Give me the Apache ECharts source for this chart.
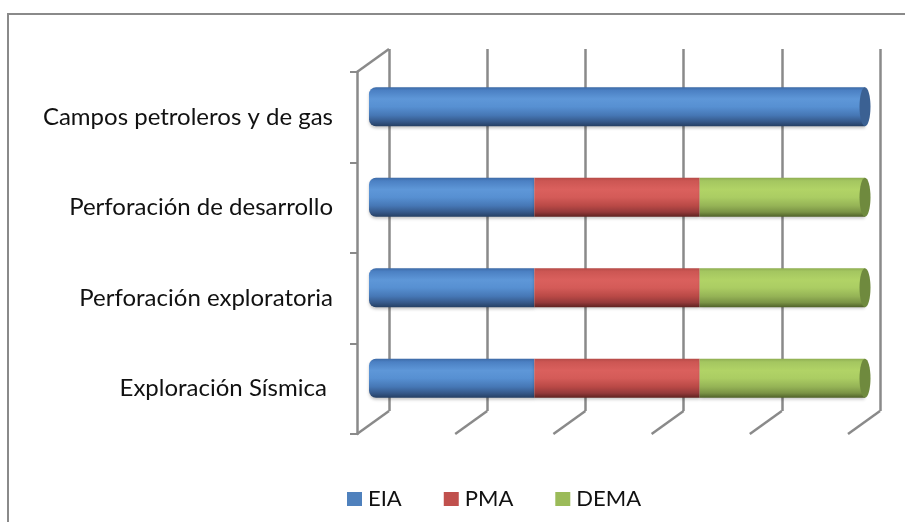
<!DOCTYPE html>
<html><head><meta charset="utf-8">
<script src="https://cdn.jsdelivr.net/npm/echarts@6/dist/echarts.min.js"></script>
<style>html,body{margin:0;padding:0;background:#fff}#c{width:905px;height:522px}</style>
</head><body><div id="c"></div>
<script>
// ---- data ----
const categories = ['Exploración Sísmica ', 'Perforación exploratoria', 'Perforación de desarrollo', 'Campos petroleros y de gas'];
const EIA  = [1, 1, 1, 1];
const PMA  = [1, 1, 1, 0];
const DEMA = [1, 1, 1, 0];
const seriesNames = ['EIA', 'PMA', 'DEMA'];
const xTicks = [0, 20, 40, 60, 80, 100];

// ---- styles ----
const GRID_COLOR = '#8a8a8a';
const DEPTH = { dx: -32, dy: 23 };
const BAR_W = 39;
const FONT = 'Lato';
const palettes = {
  EIA:  { flat: '#4f81bd', cap: '#3b6193', stops: ['#3d6aa6', '#4b80c3', '#5e97d8', '#5790d2', '#4677b5', '#36598a', '#253f63'] },
  PMA:  { flat: '#c0504d', cap: '#9c3d3b', stops: ['#b54a47', '#cc5653', '#da605d', '#d45b58', '#b94946', '#94393a', '#5e2220'] },
  DEMA: { flat: '#9bbb59', cap: '#6f8a3e', stops: ['#8fae52', '#a4c660', '#b1d366', '#abcd63', '#95b356', '#7a9345', '#4f6129'] }
};
function grad(p) {
  const pos = [0, 0.08, 0.3, 0.5, 0.72, 0.88, 1];
  return { type: 'linear', x: 0, y: 0, x2: 0, y2: 1,
    colorStops: p.stops.map((c, i) => ({ offset: pos[i], color: c })) };
}

const raw = { EIA, PMA, DEMA };
const totals = categories.map((_, i) => EIA[i] + PMA[i] + DEMA[i]);
const pct = name => raw[name].map((v, i) => v / totals[i] * 100);
const ends = categories.map((_, i) => {
  let last = 'EIA';
  seriesNames.forEach(n => { if (raw[n][i] > 0) last = n; });
  return [100, i, last];
});

const chart = echarts.init(document.getElementById('c'), null, { renderer: 'canvas' });

const barSeries = seriesNames.map((n, k) => ({
  name: n, type: 'bar', stack: 'all', xAxisIndex: 2, yAxisIndex: 2,
  barWidth: BAR_W, z: 5,
  data: pct(n),
  itemStyle: {
    color: grad(palettes[n]),
    borderRadius: k === 0 ? [7, 0, 0, 7] : 0,
    shadowColor: 'rgba(0,0,0,0.22)', shadowBlur: 3, shadowOffsetY: 2
  },
  emphasis: { disabled: true }, silent: true
}));

chart.setOption({
  animation: false,
  backgroundColor: '#fff',
  graphic: [{
    type: 'rect', z: -10, silent: true,
    shape: { x: 8, y: 14, width: 1200, height: 1200 },
    style: { fill: 'none', stroke: GRID_COLOR, lineWidth: 2 }
  }],
  legend: {
    data: seriesNames.map(n => ({ name: n, itemStyle: { color: palettes[n].flat } })),
    top: 483, left: 342, itemWidth: 15, itemHeight: 14, itemGap: 42,
    icon: 'rect',
    textStyle: { fontFamily: FONT, fontSize: 22, lineHeight: 22, color: '#111', padding: [0, 0, 0, 1] }
  },
  grid: [
    { left: 389, right: 25, top: 49, bottom: 111 },   // back wall
    { left: 357, right: 57, top: 72, bottom: 88 },    // front plane
    { left: 369, right: 40, top: 61.5, bottom: 98.5 } // bars mid plane
  ],
  xAxis: [
    { gridIndex: 0, type: 'value', min: 0, max: 100, interval: 20,
      axisLine: { show: false }, axisTick: { show: false }, axisLabel: { show: false },
      splitLine: { show: true, lineStyle: { color: GRID_COLOR, width: 2.5 } } },
    { gridIndex: 1, type: 'value', min: 0, max: 100, show: false },
    { gridIndex: 2, type: 'value', min: 0, max: 100, show: false }
  ],
  yAxis: [
    { gridIndex: 0, type: 'value', min: 0, max: 4, show: false },
    { gridIndex: 1, type: 'category', data: categories,
      axisLine: { show: true, lineStyle: { color: GRID_COLOR, width: 2.5 } },
      axisTick: { show: true, length: 7, lineStyle: { color: GRID_COLOR, width: 2 } },
      axisLabel: { margin: 24, fontFamily: FONT, fontSize: 24, color: '#111' },
      splitLine: { show: false } },
    { gridIndex: 2, type: 'category', data: categories, show: false }
  ],
  series: [
    {
      type: 'custom', xAxisIndex: 0, yAxisIndex: 0, silent: true, z: 1,
      data: xTicks.map(v => [v]),
      renderItem: function (params, api) {
        const v = api.value(0);
        const p = api.coord([v, 0]);
        const children = [{
          type: 'line',
          shape: { x1: p[0], y1: p[1], x2: p[0] + DEPTH.dx, y2: p[1] + DEPTH.dy },
          style: { stroke: GRID_COLOR, lineWidth: 2.5 }
        }];
        if (params.dataIndex === 0) {
          const t = api.coord([v, 4]);
          children.push({
            type: 'line',
            shape: { x1: t[0], y1: t[1], x2: t[0] + DEPTH.dx, y2: t[1] + DEPTH.dy },
            style: { stroke: GRID_COLOR, lineWidth: 2.5 }
          });
        }
        return { type: 'group', children };
      }
    },
    ...barSeries,
    {
      type: 'custom', xAxisIndex: 2, yAxisIndex: 2, silent: true, z: 6,
      data: ends,
      renderItem: function (params, api) {
        const c = api.coord([api.value(0), api.value(1)]);
        const name = ends[params.dataIndex][2];
        return {
          type: 'ellipse',
          shape: { cx: c[0], cy: c[1], rx: 5.5, ry: BAR_W / 2 },
          style: { fill: palettes[name].cap }
        };
      }
    }
  ]
});
</script></body></html>
